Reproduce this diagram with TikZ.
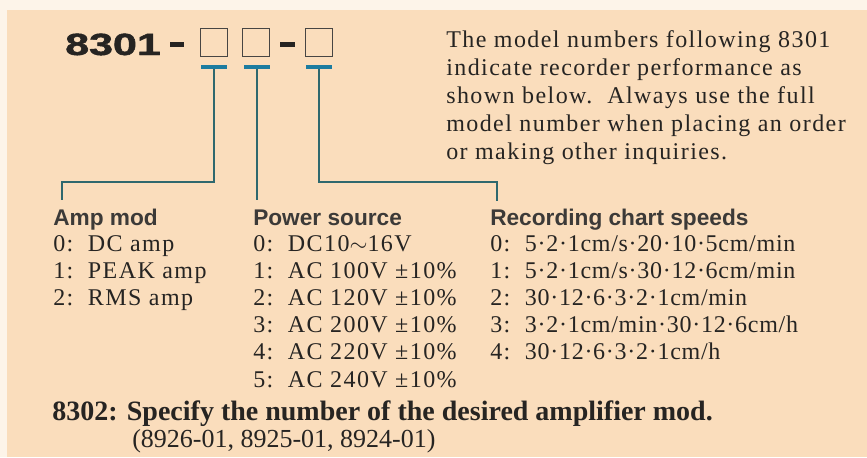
\documentclass[tikz,border=0pt]{standalone}
\usepackage{fontspec}
\setmainfont{Liberation Serif}
\newfontfamily\bodyfont{Liberation Serif}[LetterSpace=6]
\newfontfamily\speedfont{Liberation Serif}[LetterSpace=3]
\newfontfamily\headfont{Liberation Sans}
\newfontfamily\logofont{Liberation Sans}[BoldFeatures={FakeBold=1.5}]
\usepackage{xcolor}

\definecolor{paper}{RGB}{253,244,233}
\definecolor{peach}{RGB}{250,221,188}
\definecolor{ink}{RGB}{38,36,34}
\definecolor{barblue}{RGB}{28,124,160}
\definecolor{wire}{RGB}{46,104,110}

\tikzset{
  slot/.style={draw=ink!85, line width=0.7pt, minimum width=20.5pt, minimum height=21.5pt, inner sep=0},
  dashbar/.style={fill=ink, minimum width=11pt, minimum height=3.6pt, inner sep=0},
  bar/.style={fill=barblue, minimum width=20pt, minimum height=3pt, inner sep=0},
  link/.style={draw=wire, line width=0.9pt},
  head/.style={anchor=base west, inner sep=0, text=ink!90, font=\headfont\bfseries\fontsize{17}{20}\selectfont},
  item/.style={anchor=base west, inner sep=0, text=ink, font=\bodyfont\fontsize{18}{21}\selectfont},
  para/.style={anchor=north west, inner sep=0, align=left, text=ink, font=\bodyfont\fontsize{18}{21}\selectfont},
}

\begin{document}
\begin{tikzpicture}[x=0.75pt, y=-0.75pt]

\useasboundingbox (0,0) rectangle (867,457);
\fill[paper] (0,0) rectangle (867,457);
\fill[peach] (7,10) rectangle (867,457);

% model number
\node[anchor=base west, inner sep=0, text=ink, font=\logofont\bfseries\fontsize{23}{23}\selectfont]
  (logo) at (65,55) {\scalebox{1.4}[1]{8301}};
\node[dashbar] (dash1) at (177,44.5) {};
\node[slot] (box1) at (214,42.5) {};
\node[slot] (box2) at (256,42.5) {};
\node[dashbar] (dash2) at (287.5,44.5) {};
\node[slot] (box3) at (319,42.5) {};

\node[bar] (bar1) at (214,67) {};
\node[bar] (bar2) at (257,67) {};
\node[bar] (bar3) at (319,67) {};

\node[para] (intro) at (446,30) {The model numbers following 8301\\
  indicate recorder performance as\\
  shown below.\ \ Always use the full\\
  model number when placing an order\\
  or making other inquiries.};

% headings
\node[head] (hamp) at (53,225) {Amp mod};
\node[head] (hpow) at (253,225) {Power source};
\node[head] (hrec) at (490,225) {Recording chart speeds};

% leader lines
\coordinate (knee) at (0,182);
\coordinate (end1) at (62,200);
\coordinate (end2) at (257,200);
\coordinate (end3) at (497,201);
\draw[link] (bar1.south) -- (bar1.south |- knee) -| (end1);
\draw[link] (bar2.south) -- (bar2.south |- end2);
\draw[link] (bar3.south) -- (bar3.south |- knee) -| (end3);

% lists
\foreach \t [count=\n from 0] in {DC amp, PEAK amp, RMS amp}
  \node[item] (amp\n) at (53,{251+27.2*\n}) {\makebox[26pt][l]{\n:}\t};

\foreach \t [count=\n from 0] in {DC10$\sim$16V, AC 100V ±10\%, AC 120V ±10\%,
    AC 200V ±10\%, AC 220V ±10\%, AC 240V ±10\%}
  \node[item] (pow\n) at (253,{251+27.2*\n}) {\makebox[26pt][l]{\n:}\t};

\foreach \t [count=\n from 0] in {5·2·1cm/s·20·10·5cm/min, 5·2·1cm/s·30·12·6cm/min,
    30·12·6·3·2·1cm/min, 3·2·1cm/min·30·12·6cm/h, 30·12·6·3·2·1cm/h}
  \node[item] (rec\n) at (490,{251+27.2*\n}) {\makebox[26pt][l]{\n:}\speedfont\t};

% 8302 note
\node[anchor=base west, inner sep=0, text=ink, font=\bfseries\fontsize{21}{24}\selectfont]
  (note) at (52,420) {8302: Specify the number of the desired amplifier mod.};
\node[anchor=base west, inner sep=0, text=ink, font=\fontsize{19.5}{22}\selectfont]
  (parts) at (132,447) {(8926-01, 8925-01, 8924-01)};

\end{tikzpicture}
\end{document}
